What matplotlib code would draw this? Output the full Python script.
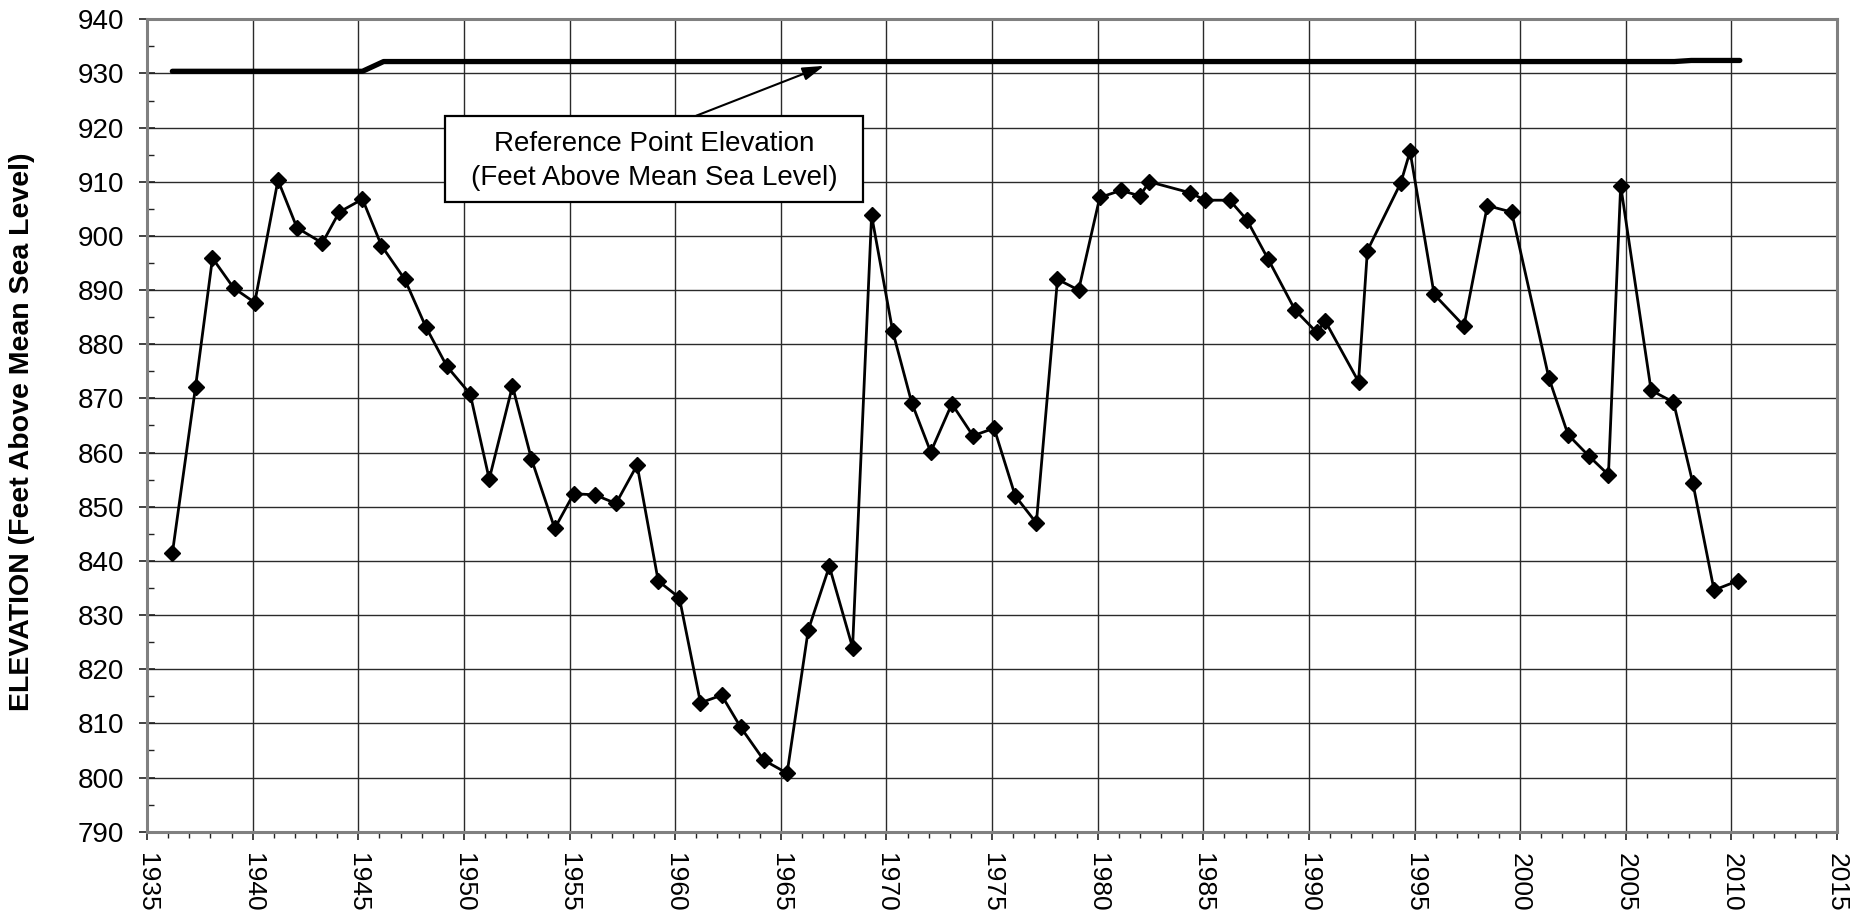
import matplotlib
matplotlib.use("Agg")
import matplotlib.pyplot as plt
from matplotlib.ticker import MultipleLocator
from matplotlib.patches import Rectangle

plt.rcParams['font.family'] = ['Liberation Sans', 'DejaVu Sans']

# Groundwater elevation observations (decimal year, feet above mean sea level)
years = [1936.2, 1937.3, 1938.1, 1939.1, 1940.1, 1941.2, 1942.1, 1943.3, 1944.1, 1945.2,
         1946.1, 1947.2, 1948.2, 1949.2, 1950.3, 1951.2, 1952.3, 1953.2, 1954.3, 1955.2,
         1956.2, 1957.2, 1958.2, 1959.2, 1960.2, 1961.2, 1962.2, 1963.1, 1964.2, 1965.3,
         1966.3, 1967.3, 1968.4, 1969.3, 1970.3, 1971.2, 1972.1, 1973.1, 1974.1, 1975.1,
         1976.1, 1977.1, 1978.1, 1979.1, 1980.1, 1981.1, 1982.0, 1982.45, 1984.35, 1985.1,
         1986.25, 1987.06, 1988.06, 1989.35, 1990.37, 1990.77, 1992.35, 1992.77, 1994.35, 1994.79,
         1995.93, 1997.34, 1998.45, 1999.6, 2001.36, 2002.27, 2003.27, 2004.18, 2004.76, 2006.2,
         2007.26, 2008.18, 2009.18, 2010.29]
elevation = [841.4, 872.2, 895.9, 890.4, 887.7, 910.3, 901.5, 898.7, 904.4, 906.8,
             898.2, 892.0, 883.2, 875.9, 870.8, 855.1, 872.3, 858.8, 846.0, 852.4,
             852.2, 850.6, 857.7, 836.3, 833.2, 813.8, 815.2, 809.3, 803.2, 800.8,
             827.2, 839.0, 824.0, 903.8, 882.4, 869.2, 860.1, 869.0, 863.1, 864.5,
             852.0, 847.0, 892.0, 890.0, 907.1, 908.4, 907.4, 910.0, 908.0, 906.6,
             906.6, 903.0, 895.8, 886.3, 882.2, 884.3, 873.1, 897.3, 909.8, 915.6,
             889.2, 883.4, 905.6, 904.4, 873.8, 863.3, 859.3, 855.9, 909.3, 871.5,
             869.3, 854.3, 834.6, 836.3]

# Reference point elevation
ref_years = [1936.2, 1945.2, 1946.2, 2007.3, 2008.1, 2010.4]
ref_elev = [930.4, 930.4, 932.2, 932.2, 932.4, 932.4]

x_ticks = list(range(1935, 2016, 5))
y_ticks = list(range(790, 941, 10))
annot_text = "Reference Point Elevation\n(Feet Above Mean Sea Level)"
y_label = "ELEVATION (Feet Above Mean Sea Level)"

fig = plt.figure(figsize=(18.62, 9.15), dpi=100)
ax = fig.add_axes([147/1862, 1 - 831.7/915, 1690/1862, 812.4/915])

ax.plot(ref_years, ref_elev, color='black', lw=3.8, solid_capstyle='round', zorder=3)
ax.plot(years, elevation, color='black', lw=2.0, marker='D', ms=8.5,
        mfc='black', mec='black', zorder=4)

ax.set_xlim(1935, 2015)
ax.set_ylim(790, 940)
ax.set_xticks(x_ticks)
ax.set_yticks(y_ticks)
ax.xaxis.set_minor_locator(MultipleLocator(1))
ax.yaxis.set_minor_locator(MultipleLocator(5))
ax.grid(True, which='major', color='#2a2a2a', lw=1.0)
ax.set_axisbelow(True)

ax.tick_params(axis='x', which='major', direction='out', length=6, width=1.2,
               labelsize=19, labelrotation=-90, pad=9, color='#222222')
ax.tick_params(axis='x', which='minor', direction='out', length=4.5, width=1.0, color='#222222')
ax.tick_params(axis='y', which='major', direction='inout', length=11, width=1.2,
               labelsize=20, pad=11, color='#222222')
ax.tick_params(axis='y', which='minor', direction='in', length=5, width=1.0, color='#222222')

for side in ['top', 'right', 'left', 'bottom']:
    ax.spines[side].set_color('#808080')
    ax.spines[side].set_linewidth(2.2)

ax.set_ylabel(y_label, fontsize=20.5, fontweight='bold')
ax.yaxis.set_label_coords(-(147 - 35) / 1690, 0.492)

# annotation box
ax.add_patch(Rectangle((1949.11, 906.3), 1968.88 - 1949.11, 922.2 - 906.3,
                       fc='white', ec='black', lw=1.6, zorder=6))
ax.text(1959.0, 913.9, annot_text, ha='center', va='center', fontsize=20,
        linespacing=1.4, zorder=7)
ax.annotate('', xy=(1967.05, 931.4), xytext=(1961.0, 922.2),
            arrowprops=dict(arrowstyle='-|>,head_length=1.3,head_width=0.4',
                            color='black', lw=1.5, shrinkA=0, shrinkB=0), zorder=5)

fig.savefig('out.png', dpi=100, facecolor='white')
